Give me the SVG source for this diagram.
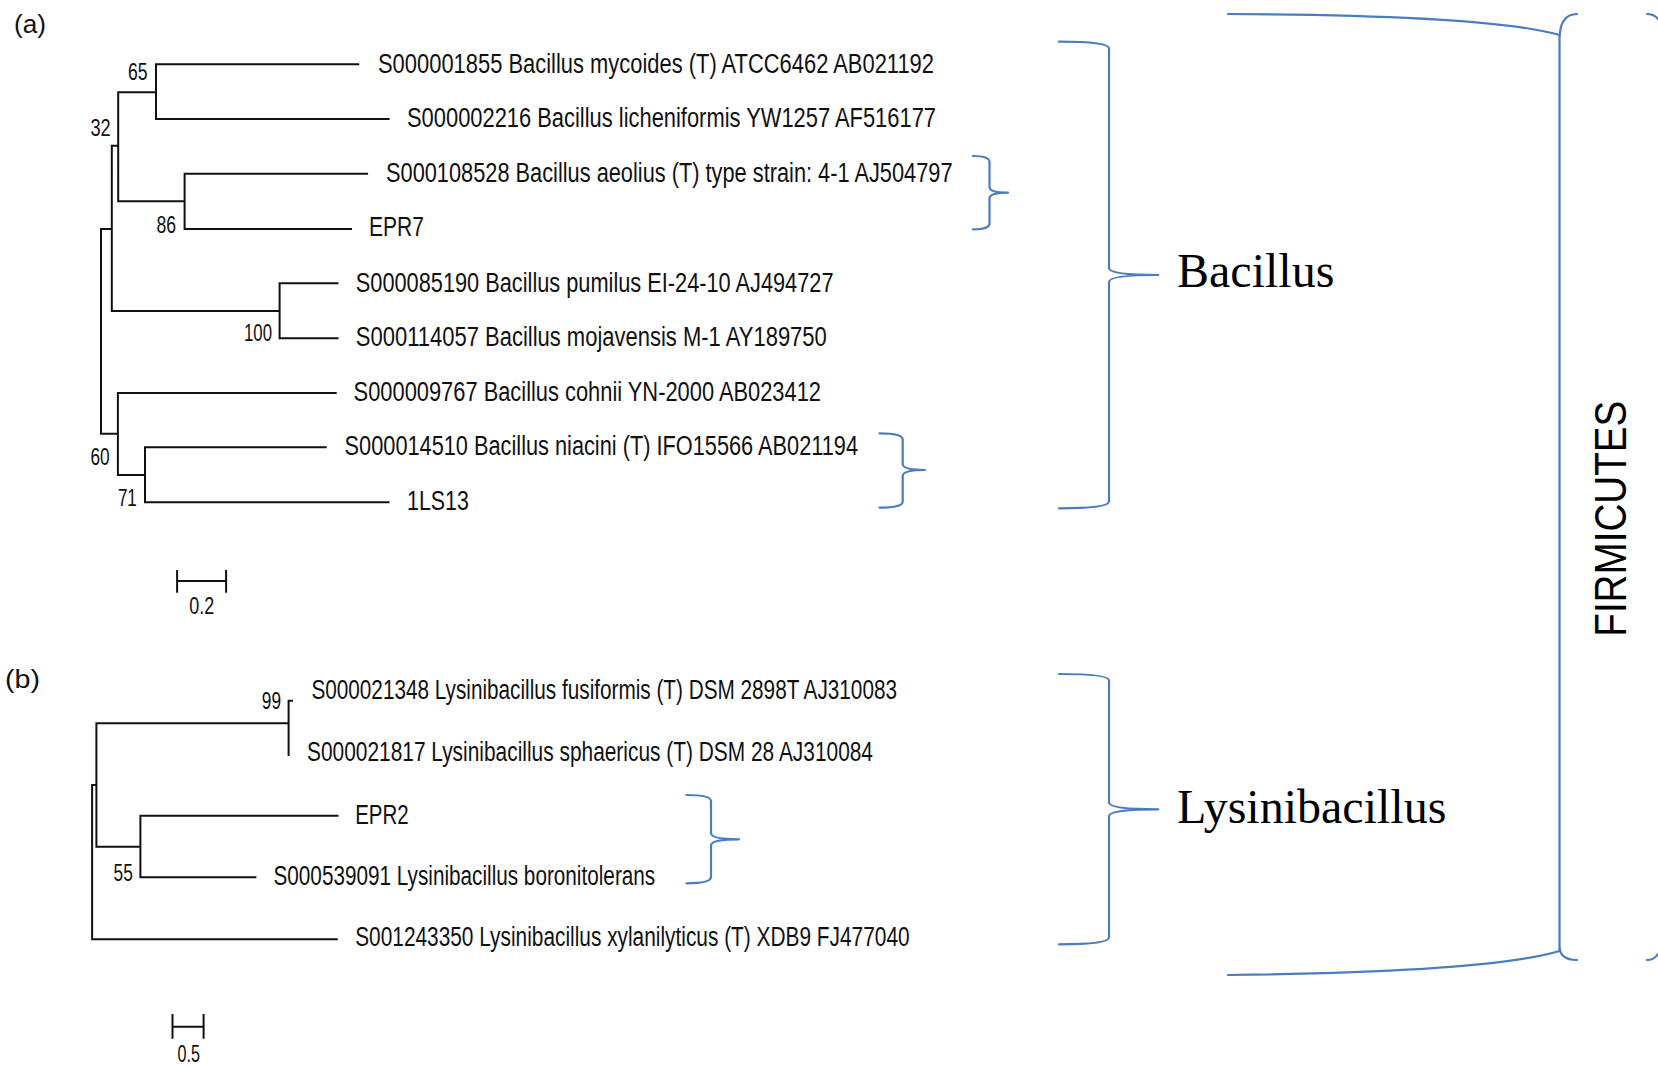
<svg xmlns="http://www.w3.org/2000/svg" width="1658" height="1067" viewBox="0 0 1658 1067">
<style>
.br{fill:none;stroke:#111;stroke-width:2;stroke-linecap:square}
.bl{fill:none;stroke:#4a7cc0;stroke-width:2.2;stroke-linecap:round;stroke-linejoin:round}
.lf{font-family:"Liberation Sans Narrow","Liberation Sans",Arial,sans-serif;font-size:27px;fill:#111}
.bs{font-family:"Liberation Sans Narrow","Liberation Sans",Arial,sans-serif;font-size:23px;fill:#111;text-anchor:end}
.sc{font-family:"Liberation Sans Narrow","Liberation Sans",Arial,sans-serif;font-size:23px;fill:#111}
.pn{font-family:"Liberation Sans",Arial,sans-serif;font-size:26px;fill:#111}
.gn{font-family:"Liberation Serif","Times New Roman",serif;font-size:48px;fill:#000}
.ph{font-family:"Liberation Sans",Arial,sans-serif;font-size:44px;fill:#000}
</style>
<rect width="1658" height="1067" fill="#fff"/>

<g id="panel-labels">
<text class="pn" x="14" y="33" textLength="32" lengthAdjust="spacingAndGlyphs">(a)</text>
<text class="pn" x="5" y="688" textLength="35" lengthAdjust="spacingAndGlyphs">(b)</text>
</g>

<g id="connectors">
<!-- tree (a) -->
<path class="br" d="M101,229 V433.7 M101,229 H111.8 M111.8,145.7 V311 M111.8,145.7 H118.2 M118.2,92.3 V201.3 M118.2,92.3 H156 M156,64.3 V119 M156,64.3 H358.2 M156,119 H388.6 M118.2,201.3 H184.6 M184.6,173.7 V229 M184.6,173.7 H367.1 M184.6,229 H351 M111.8,311 H279.6 M279.6,283.3 V338.3 M279.6,283.3 H337.5 M279.6,338.3 H337.5 M101,433.7 H117.9 M117.9,393 V475 M117.9,393 H335.7 M117.9,475 H145 M145,447.3 V502.3 M145,447.3 H325.7 M145,502.3 H388.6"/>
<!-- scale bar (a) -->
<path class="br" d="M177.1,581 H226.1 M177.1,571 V591.7 M226.1,571 V591.7"/>
<!-- tree (b) -->
<path class="br" d="M92.1,785 V939.3 M92.1,785 H96.4 M96.4,723.3 V846.7 M96.4,723.3 H288.6 M288.6,700.7 V755 M288.6,700.7 H292 M96.4,846.7 H140.4 M140.4,815.7 V877.3 M140.4,815.7 H337.5 M140.4,877.3 H255.4 M92.1,939.3 H336.8"/>
<!-- scale bar (b) -->
<path class="br" d="M172.5,1026.7 H203.6 M172.5,1015 V1037.7 M203.6,1015 V1037.7"/>
</g>

<g id="bootstrap">
<text class="bs" x="147.5" y="80" textLength="19.6" lengthAdjust="spacingAndGlyphs">65</text>
<text class="bs" x="110.7" y="136" textLength="20.3" lengthAdjust="spacingAndGlyphs">32</text>
<text class="bs" x="176" y="233" textLength="19.6" lengthAdjust="spacingAndGlyphs">86</text>
<text class="bs" x="272" y="341" textLength="28" lengthAdjust="spacingAndGlyphs">100</text>
<text class="bs" x="109.6" y="464.7" textLength="19.2" lengthAdjust="spacingAndGlyphs">60</text>
<text class="bs" x="136.8" y="506" textLength="18.9" lengthAdjust="spacingAndGlyphs">71</text>
<text class="bs" x="281" y="709.3" textLength="19.2" lengthAdjust="spacingAndGlyphs">99</text>
<text class="bs" x="132.9" y="880.7" textLength="19.3" lengthAdjust="spacingAndGlyphs">55</text>
</g>

<g id="scale-labels">
<text class="sc" x="189.3" y="614" textLength="25" lengthAdjust="spacingAndGlyphs">0.2</text>
<text class="sc" x="177.5" y="1062" textLength="22.5" lengthAdjust="spacingAndGlyphs">0.5</text>
</g>

<g id="leaf-mycoides"><text class="lf" x="378" y="72.5" textLength="556" lengthAdjust="spacingAndGlyphs">S000001855 Bacillus mycoides (T) ATCC6462 AB021192</text></g>
<g id="leaf-licheniformis"><text class="lf" x="407" y="127" textLength="529" lengthAdjust="spacingAndGlyphs">S000002216 Bacillus licheniformis YW1257 AF516177</text></g>
<g id="leaf-aeolius"><text class="lf" x="386" y="182" textLength="566.5" lengthAdjust="spacingAndGlyphs">S000108528 Bacillus aeolius (T) type strain: 4-1 AJ504797</text></g>
<g id="leaf-EPR7"><text class="lf" x="369" y="236" textLength="55" lengthAdjust="spacingAndGlyphs">EPR7</text></g>
<g id="leaf-pumilus"><text class="lf" x="355.8" y="292" textLength="477.7" lengthAdjust="spacingAndGlyphs">S000085190 Bacillus pumilus EI-24-10 AJ494727</text></g>
<g id="leaf-mojavensis"><text class="lf" x="355.8" y="346" textLength="471" lengthAdjust="spacingAndGlyphs">S000114057 Bacillus mojavensis M-1 AY189750</text></g>
<g id="leaf-cohnii"><text class="lf" x="353.6" y="400.5" textLength="467.4" lengthAdjust="spacingAndGlyphs">S000009767 Bacillus cohnii YN-2000 AB023412</text></g>
<g id="leaf-niacini"><text class="lf" x="344.6" y="455" textLength="513.4" lengthAdjust="spacingAndGlyphs">S000014510 Bacillus niacini (T) IFO15566 AB021194</text></g>
<g id="leaf-1LS13"><text class="lf" x="407" y="510" textLength="61.8" lengthAdjust="spacingAndGlyphs">1LS13</text></g>

<g id="leaf-fusiformis"><text class="lf" x="311.4" y="699" textLength="585.6" lengthAdjust="spacingAndGlyphs">S000021348 Lysinibacillus fusiformis (T) DSM 2898T AJ310083</text></g>
<g id="leaf-sphaericus"><text class="lf" x="307" y="760.5" textLength="566" lengthAdjust="spacingAndGlyphs">S000021817 Lysinibacillus sphaericus (T) DSM 28 AJ310084</text></g>
<g id="leaf-EPR2"><text class="lf" x="355.2" y="824" textLength="53.6" lengthAdjust="spacingAndGlyphs">EPR2</text></g>
<g id="leaf-boronitolerans"><text class="lf" x="273.5" y="885" textLength="381.7" lengthAdjust="spacingAndGlyphs">S000539091 Lysinibacillus boronitolerans</text></g>
<g id="leaf-xylanilyticus"><text class="lf" x="355.2" y="945.5" textLength="554.4" lengthAdjust="spacingAndGlyphs">S001243350 Lysinibacillus xylanilyticus (T) XDB9 FJ477040</text></g>

<g id="brace-aeolius-EPR7">
<path class="bl" d="M973,156 Q989.5,156 989.5,162 L989.5,187 Q989.5,192.7 1008,192.7 Q989.5,192.7 989.5,198.5 L989.5,223.5 Q989.5,229.3 973,229.3"/>
</g>
<g id="brace-niacini-1LS13">
<path class="bl" d="M879.5,433.3 Q902.7,433.3 902.7,439.5 L902.7,464 Q902.7,470 925,470 Q902.7,470 902.7,476 L902.7,501.5 Q902.7,507.7 879.5,507.7"/>
</g>
<g id="brace-EPR2-boronitolerans">
<path class="bl" d="M686.4,795 Q711,795 711,801 L711,833 Q711,839.3 739,839.3 Q711,839.3 711,845.5 L711,877 Q711,883.3 686.4,883.3"/>
</g>

<g id="group-Bacillus">
<path class="bl" d="M1059,41.7 Q1109,41.7 1109,48.5 L1109,268 Q1109,275 1158.3,275 Q1109,275 1109,282 L1109,501.5 Q1109,508.3 1059,508.3"/>
<text class="gn" x="1177" y="286.7">Bacillus</text>
</g>
<g id="group-Lysinibacillus">
<path class="bl" d="M1059,674 Q1109,674 1109,680.5 L1109,802.5 Q1109,809.3 1158.3,809.3 Q1109,809.3 1109,816 L1109,937.5 Q1109,944.3 1059,944.3"/>
<text class="gn" x="1177" y="822.7">Lysinibacillus</text>
</g>
<g id="group-Firmicutes">
<path class="bl" d="M1228,14 Q1490,15 1559.5,35 M1559.5,40 Q1559.5,14 1577,14 M1559.5,35 L1559.5,951 M1228,975 Q1490,972 1559.5,951 M1559.5,946 Q1559.5,960 1577,960 M1647,14 Q1654,14 1658,19 M1647,960 Q1654,960 1658,954"/>
<text class="ph" transform="translate(1626,636.7) rotate(-90)" x="0" y="0" textLength="236" lengthAdjust="spacingAndGlyphs">FIRMICUTES</text>
</g>
</svg>
